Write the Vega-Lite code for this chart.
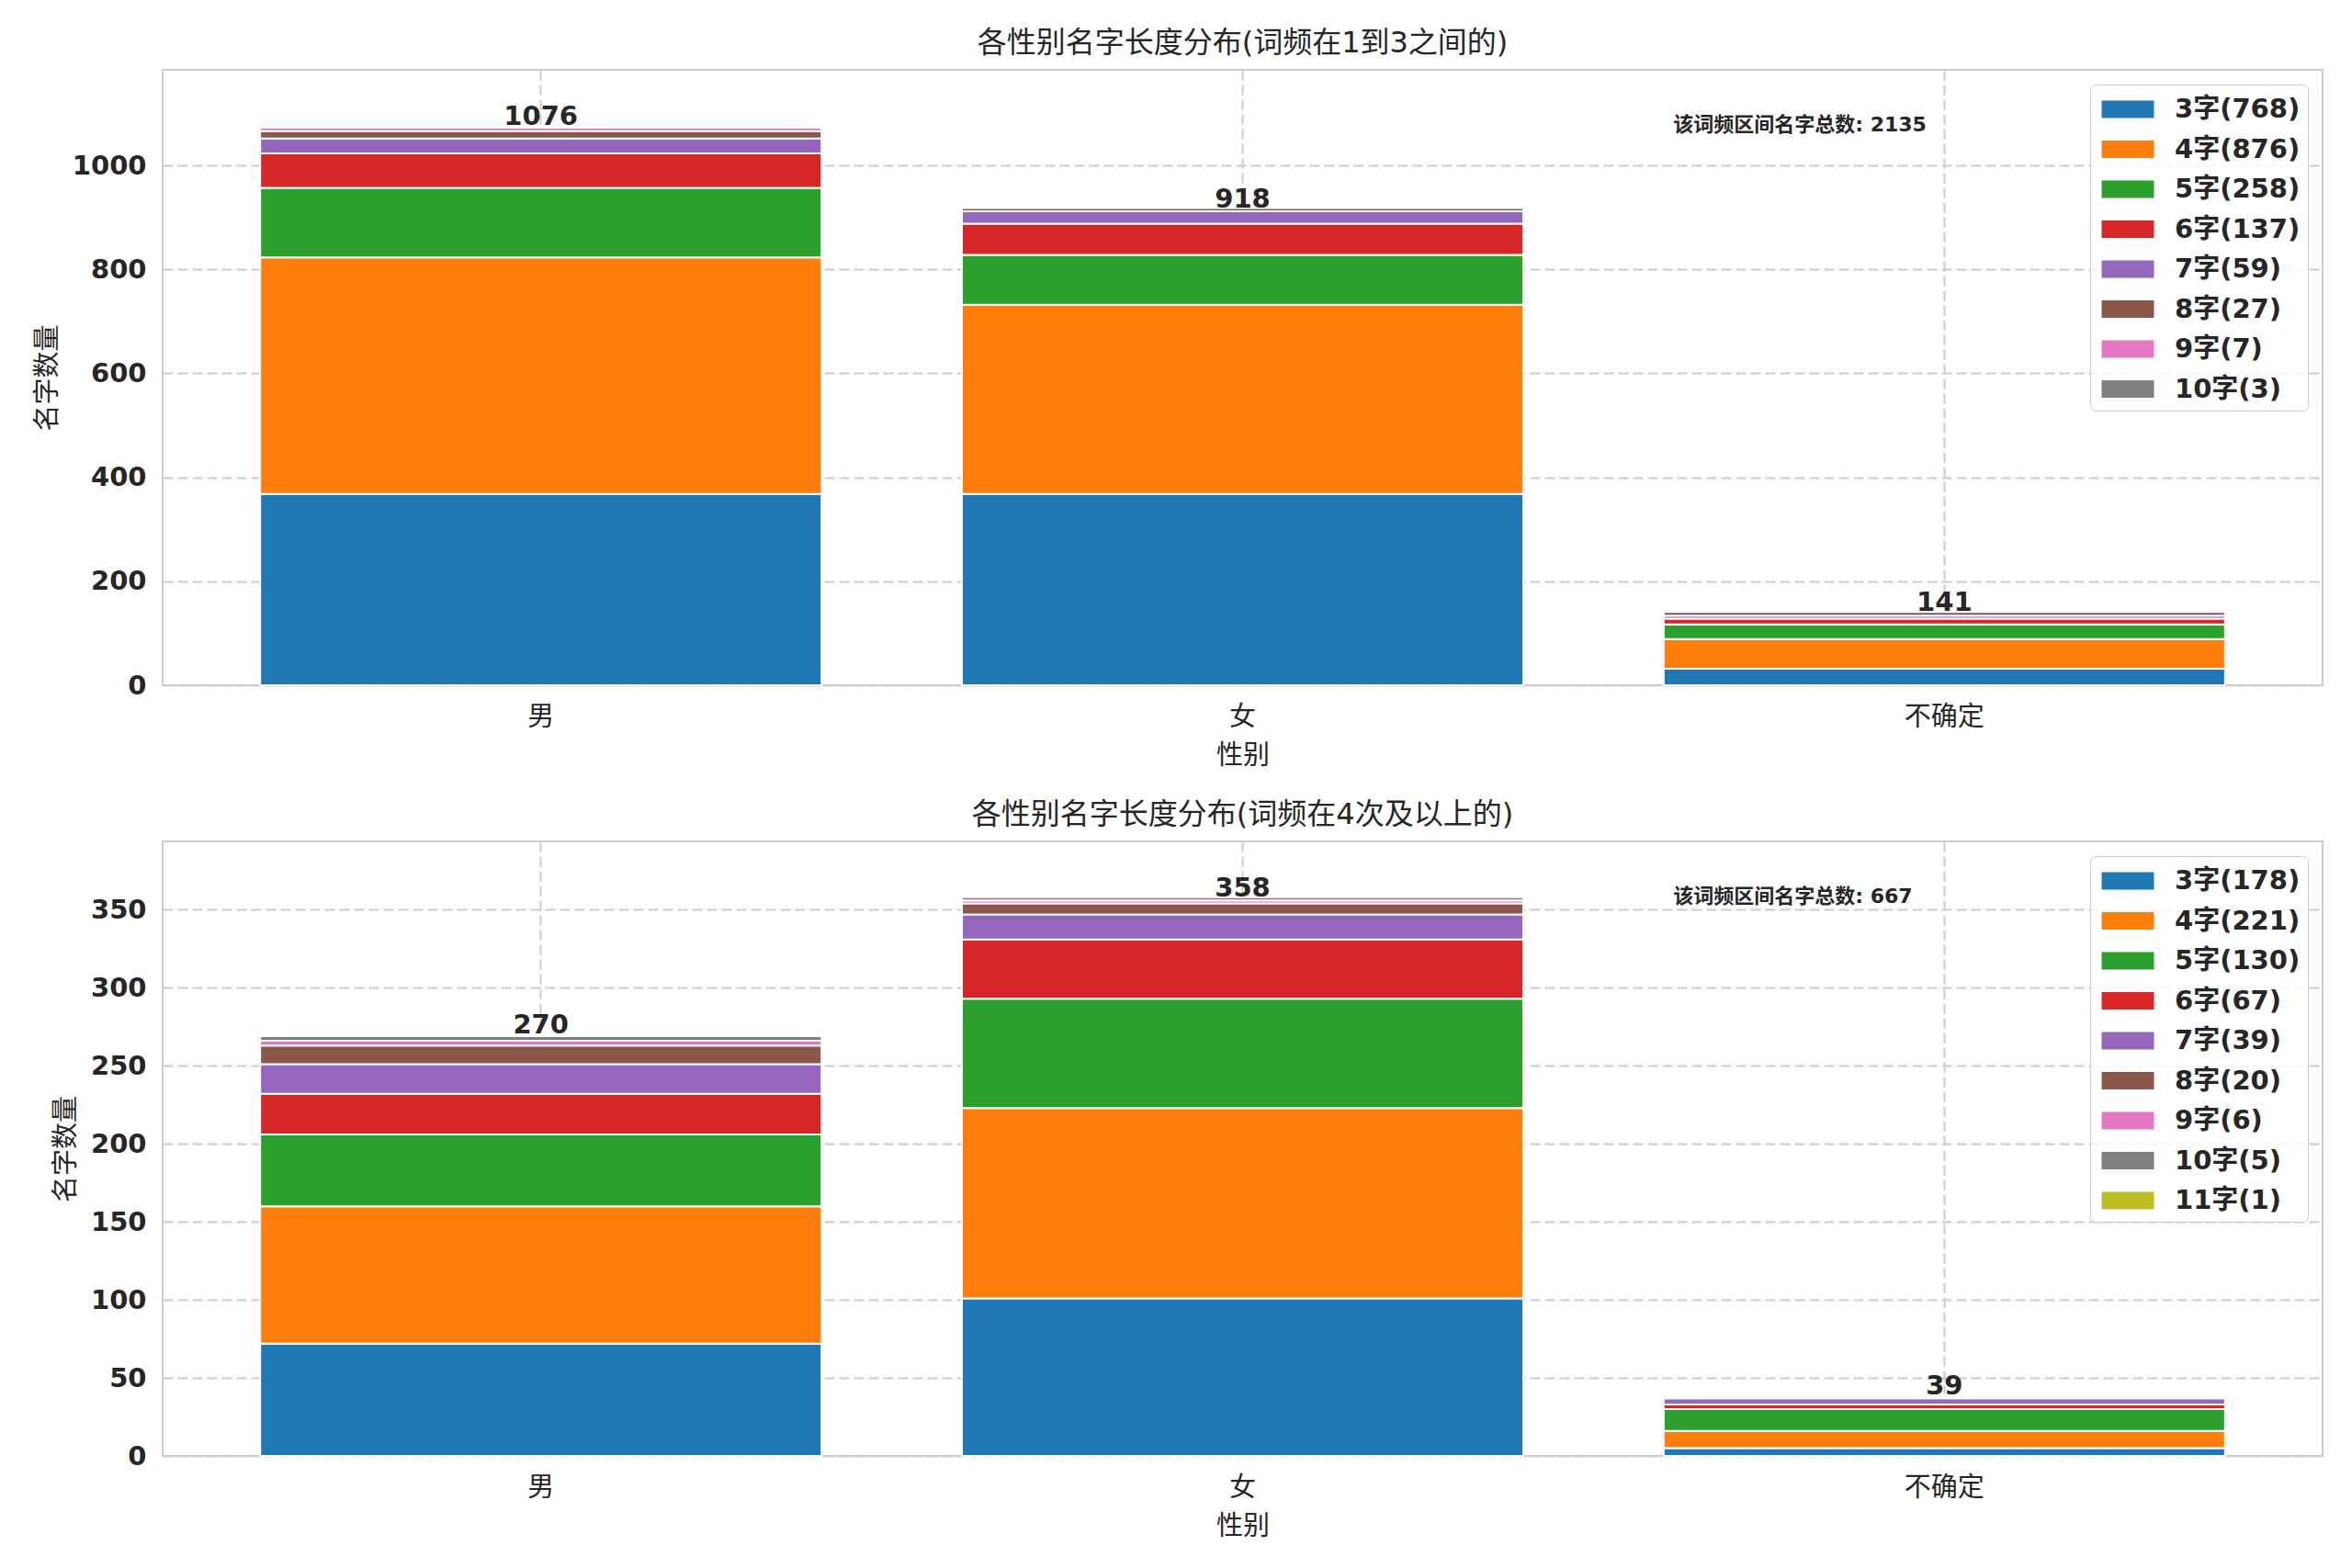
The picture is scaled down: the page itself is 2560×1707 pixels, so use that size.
{
  "$schema": "https://vega.github.io/schema/vega-lite/v6.json",
  "background": "white",
  "padding": {"left": 36, "top": 30, "right": 0, "bottom": 0},
  "spacing": 32,
  "datasets": {
    "low": [
      {"gender": "男", "n": 3, "series": "3字(768)", "count": 368},
      {"gender": "男", "n": 4, "series": "4字(876)", "count": 455},
      {"gender": "男", "n": 5, "series": "5字(258)", "count": 134},
      {"gender": "男", "n": 6, "series": "6字(137)", "count": 66},
      {"gender": "男", "n": 7, "series": "7字(59)", "count": 29},
      {"gender": "男", "n": 8, "series": "8字(27)", "count": 14},
      {"gender": "男", "n": 9, "series": "9字(7)", "count": 7},
      {"gender": "男", "n": 10, "series": "10字(3)", "count": 3},
      {"gender": "女", "n": 3, "series": "3字(768)", "count": 368},
      {"gender": "女", "n": 4, "series": "4字(876)", "count": 364},
      {"gender": "女", "n": 5, "series": "5字(258)", "count": 96},
      {"gender": "女", "n": 6, "series": "6字(137)", "count": 60},
      {"gender": "女", "n": 7, "series": "7字(59)", "count": 24},
      {"gender": "女", "n": 8, "series": "8字(27)", "count": 6},
      {"gender": "不确定", "n": 3, "series": "3字(768)", "count": 32},
      {"gender": "不确定", "n": 4, "series": "4字(876)", "count": 57},
      {"gender": "不确定", "n": 5, "series": "5字(258)", "count": 28},
      {"gender": "不确定", "n": 6, "series": "6字(137)", "count": 11},
      {"gender": "不确定", "n": 7, "series": "7字(59)", "count": 6},
      {"gender": "不确定", "n": 8, "series": "8字(27)", "count": 7}
    ],
    "high": [
      {"gender": "男", "n": 3, "series": "3字(178)", "count": 72},
      {"gender": "男", "n": 4, "series": "4字(221)", "count": 88},
      {"gender": "男", "n": 5, "series": "5字(130)", "count": 46},
      {"gender": "男", "n": 6, "series": "6字(67)", "count": 26},
      {"gender": "男", "n": 7, "series": "7字(39)", "count": 19},
      {"gender": "男", "n": 8, "series": "8字(20)", "count": 12},
      {"gender": "男", "n": 9, "series": "9字(6)", "count": 3},
      {"gender": "男", "n": 10, "series": "10字(5)", "count": 3},
      {"gender": "男", "n": 11, "series": "11字(1)", "count": 1},
      {"gender": "女", "n": 3, "series": "3字(178)", "count": 101},
      {"gender": "女", "n": 4, "series": "4字(221)", "count": 122},
      {"gender": "女", "n": 5, "series": "5字(130)", "count": 70},
      {"gender": "女", "n": 6, "series": "6字(67)", "count": 38},
      {"gender": "女", "n": 7, "series": "7字(39)", "count": 16},
      {"gender": "女", "n": 8, "series": "8字(20)", "count": 7},
      {"gender": "女", "n": 9, "series": "9字(6)", "count": 2},
      {"gender": "女", "n": 10, "series": "10字(5)", "count": 2},
      {"gender": "不确定", "n": 3, "series": "3字(178)", "count": 5},
      {"gender": "不确定", "n": 4, "series": "4字(221)", "count": 11},
      {"gender": "不确定", "n": 5, "series": "5字(130)", "count": 14},
      {"gender": "不确定", "n": 6, "series": "6字(67)", "count": 3},
      {"gender": "不确定", "n": 7, "series": "7字(39)", "count": 4},
      {"gender": "不确定", "n": 8, "series": "8字(20)", "count": 1},
      {"gender": "不确定", "n": 9, "series": "9字(6)", "count": 1}
    ]
  },
  "vconcat": [
    {
      "title": "各性别名字长度分布(词频在1到3之间的)",
      "width": 2351,
      "height": 670,
      "data": {"name": "low"},
      "encoding": {
        "x": {
          "field": "gender",
          "type": "nominal",
          "sort": ["男", "女", "不确定"],
          "scale": {"paddingInner": 0.2, "paddingOuter": 0.139},
          "title": "性别"
        }
      },
      "layer": [
        {
          "mark": {"type": "bar", "stroke": "white", "strokeWidth": 2},
          "encoding": {
            "y": {
              "field": "count",
              "type": "quantitative",
              "stack": "zero",
              "scale": {"domain": [0, 1184], "nice": false},
              "axis": {"values": [0, 200, 400, 600, 800, 1000], "format": "d"},
              "title": "名字数量"
            },
            "color": {
              "field": "series",
              "type": "nominal",
              "scale": {
                "domain": ["3字(768)", "4字(876)", "5字(258)", "6字(137)", "7字(59)", "8字(27)", "9字(7)", "10字(3)"],
                "range": ["#1f77b4", "#ff7f0e", "#2ca02c", "#d62728", "#9467bd", "#8c564b", "#e377c2", "#7f7f7f"]
              },
              "legend": {"title": null}
            },
            "order": {"field": "n", "type": "quantitative", "sort": "ascending"}
          }
        },
        {
          "mark": {"type": "text", "fontWeight": "bold", "fontSize": 29, "baseline": "alphabetic", "dy": -1, "color": "#262626"},
          "encoding": {
            "y": {"aggregate": "sum", "field": "count", "type": "quantitative"},
            "text": {"aggregate": "sum", "field": "count", "type": "quantitative"}
          }
        },
        {
          "data": {"values": [{}]},
          "mark": {"type": "text", "text": "该词频区间名字总数: 2135", "fontWeight": "bold", "fontSize": 22, "align": "left", "baseline": "middle", "color": "#262626"},
          "encoding": {
            "x": {"datum": "不确定", "bandPosition": 0.017},
            "y": {"datum": 1078}
          }
        }
      ]
    },
    {
      "title": "各性别名字长度分布(词频在4次及以上的)",
      "width": 2351,
      "height": 669,
      "data": {"name": "high"},
      "encoding": {
        "x": {
          "field": "gender",
          "type": "nominal",
          "sort": ["男", "女", "不确定"],
          "scale": {"paddingInner": 0.2, "paddingOuter": 0.139},
          "title": "性别"
        }
      },
      "layer": [
        {
          "mark": {"type": "bar", "stroke": "white", "strokeWidth": 2},
          "encoding": {
            "y": {
              "field": "count",
              "type": "quantitative",
              "stack": "zero",
              "scale": {"domain": [0, 393.8], "nice": false},
              "axis": {"values": [0, 50, 100, 150, 200, 250, 300, 350], "format": "d"},
              "title": "名字数量"
            },
            "color": {
              "field": "series",
              "type": "nominal",
              "scale": {
                "domain": ["3字(178)", "4字(221)", "5字(130)", "6字(67)", "7字(39)", "8字(20)", "9字(6)", "10字(5)", "11字(1)"],
                "range": ["#1f77b4", "#ff7f0e", "#2ca02c", "#d62728", "#9467bd", "#8c564b", "#e377c2", "#7f7f7f", "#bcbd22"]
              },
              "legend": {"title": null}
            },
            "order": {"field": "n", "type": "quantitative", "sort": "ascending"}
          }
        },
        {
          "mark": {"type": "text", "fontWeight": "bold", "fontSize": 29, "baseline": "alphabetic", "dy": -1, "color": "#262626"},
          "encoding": {
            "y": {"aggregate": "sum", "field": "count", "type": "quantitative"},
            "text": {"aggregate": "sum", "field": "count", "type": "quantitative"}
          }
        },
        {
          "data": {"values": [{}]},
          "mark": {"type": "text", "text": "该词频区间名字总数: 667", "fontWeight": "bold", "fontSize": 22, "align": "left", "baseline": "middle", "color": "#262626"},
          "encoding": {
            "x": {"datum": "不确定", "bandPosition": 0.017},
            "y": {"datum": 358.5}
          }
        }
      ]
    }
  ],
  "resolve": {
    "scale": {"color": "independent", "y": "independent", "x": "independent"},
    "legend": {"color": "independent"}
  },
  "config": {
    "font": "DejaVu Sans, Noto Sans CJK SC",
    "view": {"stroke": "#cccccc", "strokeWidth": 2},
    "title": {"fontSize": 32, "fontWeight": "normal", "color": "#262626", "offset": 12},
    "axis": {
      "grid": true,
      "gridColor": "#cccccc",
      "gridDash": [11, 5],
      "gridWidth": 2,
      "domain": false,
      "ticks": false,
      "tickSize": 0,
      "labelFontSize": 29,
      "labelColor": "#262626",
      "titleFontSize": 29,
      "titleFontWeight": "normal",
      "titleColor": "#262626"
    },
    "axisX": {"bandPosition": 0.5, "labelAngle": 0, "labelPadding": 20, "titlePadding": 13},
    "axisY": {"labelFontWeight": "bold", "labelPadding": 18, "titlePadding": 12},
    "legend": {
      "orient": "top-right",
      "offset": 16,
      "padding": 8,
      "strokeColor": "#cccccc",
      "fillColor": "rgba(255,255,255,0.8)",
      "cornerRadius": 6,
      "labelFontSize": 29,
      "labelFontWeight": "bold",
      "labelColor": "#262626",
      "symbolType": "M-1.5,-0.5H1.5V0.5H-1.5Z",
      "symbolSize": 1444,
      "symbolStrokeWidth": 0,
      "symbolOpacity": 1,
      "symbolOffset": 14,
      "labelOffset": 32,
      "rowPadding": 9.5
    }
  }
}
